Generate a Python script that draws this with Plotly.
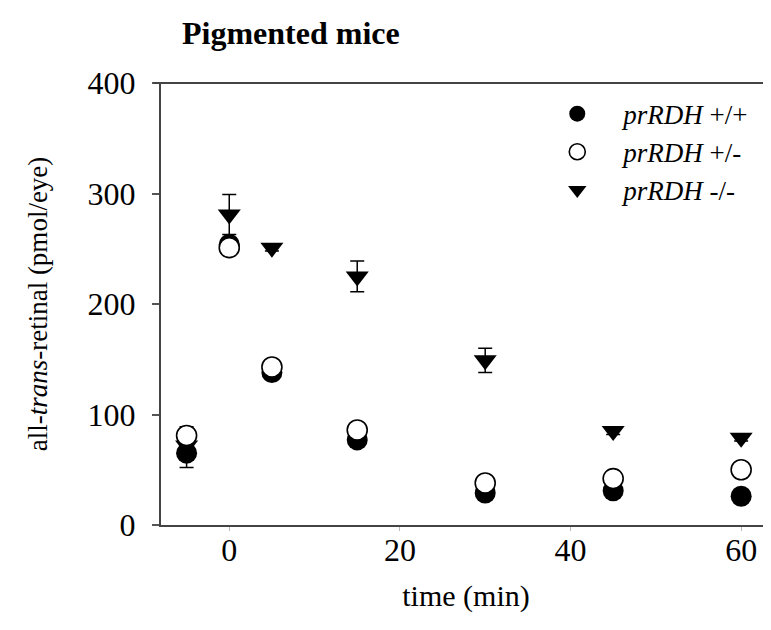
import plotly.graph_objects as go

time = [-5, 0, 5, 15, 30, 45, 60]
wt = [65, 254, 138, 77, 29, 31, 26]
wt_err = [13, 5, 4, 4, 3, 3, 3]
het = [81, 251, 143, 86, 38, 42, 50]
het_err = [8, 6, 5, 4, 4, 4, 4]
ko = [72, 281, 251, 225, 149, 85, 79]
ko_err = [5, 18, 3, 14, 11, 3, 3]

series_names = ["<i>prRDH</i> +/+", "<i>prRDH</i> +/-", "<i>prRDH</i> -/-"]
y_ticks = [0, 100, 200, 300, 400]
x_ticks = [0, 20, 40, 60]

FONT = "Liberation Serif, Times New Roman, serif"
W, H = 763, 622

fig = go.Figure()

def err(vals):
    return dict(type="data", array=vals, visible=True, color="black", thickness=1.5, width=7)

fig.add_trace(go.Scatter(
    x=time, y=ko, mode="markers", name=series_names[2], legendrank=3,
    marker=dict(symbol="triangle-down", size=20, color="black", line=dict(width=0)),
    error_y=err(ko_err)))
fig.add_trace(go.Scatter(
    x=time, y=wt, mode="markers", name=series_names[0], legendrank=1,
    marker=dict(symbol="circle", size=21, color="black", line=dict(width=0)),
    error_y=err(wt_err)))
fig.add_trace(go.Scatter(
    x=time, y=het, mode="markers", name=series_names[1], legendrank=2,
    marker=dict(symbol="circle", size=20, color="white", line=dict(width=1.6, color="black")),
    error_y=err(het_err)))

fig.update_layout(
    width=W, height=H,
    margin=dict(l=153, r=0, t=75, b=105, autoexpand=False),
    paper_bgcolor="white", plot_bgcolor="white",
    font=dict(family=FONT, color="black"),
    title=dict(text="<b>Pigmented mice</b>", font=dict(size=32, family=FONT),
               x=174 / W, xanchor="left", y=1 - 25 / H, yanchor="middle",
               automargin=False),
    legend=dict(x=0.607, y=0.985, xanchor="left", yanchor="top",
                font=dict(size=27, family=FONT), bgcolor="rgba(0,0,0,0)",
                itemwidth=82, tracegroupgap=0),
    showlegend=True,
)

fig.update_xaxes(
    range=[-8, 63.5], tickvals=x_ticks, ticktext=[str(v) for v in x_ticks],
    showgrid=False, zeroline=False, showline=True, linecolor="#444", linewidth=2,
    ticks="outside", ticklen=4, tickcolor="#bbb", tickwidth=1,
    tickfont=dict(size=32, family=FONT), automargin=False, ticklabelstandoff=-8,
    title=dict(text="time (min)", font=dict(size=30, family=FONT), standoff=18),
)
fig.update_yaxes(
    range=[0, 400], tickvals=y_ticks, ticktext=[str(v) for v in y_ticks],
    showgrid=False, zeroline=False, showline=True, linecolor="#444", linewidth=2,
    ticks="outside", ticklen=7, tickcolor="#555", tickwidth=1.5,
    tickfont=dict(size=32, family=FONT), ticklabelstandoff=10, automargin=False,
    title=dict(text="all-<i>trans</i>-retinal (pmol/eye)", font=dict(size=27, family=FONT), standoff=32),
)

fig.add_shape(type="line", xref="paper", yref="paper", x0=-0.012, x1=1, y0=1, y1=1,
              line=dict(color="#444", width=2))

fig.write_html("out.html")
